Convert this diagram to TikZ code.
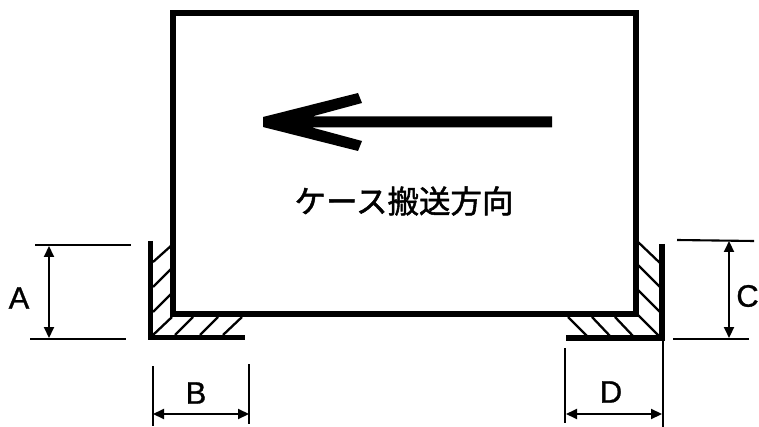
\documentclass[tikz,border=0pt]{standalone}
\usepackage{fontspec}
\setmainfont{Liberation Sans}
\newfontfamily\cjk[FakeBold=1.6]{Noto Sans CJK JP}
\newfontfamily\dimfont[FakeBold=0.9]{Liberation Sans}
\usetikzlibrary{arrows.meta}
\tikzset{
  thick line/.style={line width=5.4pt,line cap=butt,line join=miter},
  hatch/.style={line width=2.3pt},
  ext/.style={line width=2.1pt},
  dimarrow/.style={line width=2.1pt,{Triangle[length=11pt,width=10pt]}-{Triangle[length=11pt,width=10pt]}},
  dimlabel/.style={inner sep=0pt,font=\dimfont\fontsize{31}{31}\selectfont},
}
\begin{document}
\begin{tikzpicture}[x=1pt,y=-1pt]
\useasboundingbox (0,0) rectangle (759,427);
\fill[white] (0,0) rectangle (759,427);
% case
\draw[thick line] (173,13) rectangle (636,314);
% big arrow
\fill (552,116.5) -- (312,116.5) -- (362,103) -- (358,93) -- (263,117) -- (263,127) -- (358,151) -- (362,141) -- (312,127.5) -- (552,127.5) -- cycle;
\node[inner sep=0pt,font=\cjk\fontsize{31.5}{31.5}\selectfont] (title) at (404,201) {ケース搬送方向};
% left bracket
\draw[thick line] (150.5,241) -- (150.5,337.5) -- (245,337.5);
\foreach \a/\b/\c/\d in {153/262/172/245, 153/287/172/268, 153/312/172/293, 153/335/172/317, 175/335/193/317, 200/335/218/317, 223/335/242/317}
  \draw[hatch] (\a,\b) -- (\c,\d);
% right bracket
\draw[thick line] (662,244) -- (662,338) -- (566,338);
\foreach \a/\b/\c/\d in {638/242/660/263, 638/265/660/287, 638/290/660/312, 638/315/660/337, 568/317/587/336, 592/317/610/336, 615/317/633/336}
  \draw[hatch] (\a,\b) -- (\c,\d);
% dimension A
\draw[ext] (35,245) -- (131,245);
\draw[ext] (30,339) -- (126,339);
\coordinate (a1) at (49,246);
\coordinate (a2) at (49,338);
\draw[dimarrow] (a1) -- (a2);
\node[dimlabel] (A) at (19,298) {A};
% dimension B
\draw[ext] (153,366) -- (153,426);
\draw[ext] (249,364) -- (249,424);
\coordinate (b1) at (153,414);
\coordinate (b2) at (249,414);
\draw[dimarrow] (b1) -- (b2);
\node[dimlabel] (B) at (196,393) {B};
% dimension C
\draw[ext] (677,240) -- (754,241);
\draw[ext] (673,339) -- (749,339);
\coordinate (c1) at (729,241);
\coordinate (c2) at (729,338);
\draw[dimarrow] (c1) -- (c2);
\node[dimlabel] (C) at (747.5,296) {C};
% dimension D
\draw[ext] (565,348) -- (565,423);
\draw[ext] (663,340) -- (663,427);
\coordinate (d1) at (566,414);
\coordinate (d2) at (662,414);
\draw[dimarrow] (d1) -- (d2);
\node[dimlabel] (D) at (611,392) {D};
\end{tikzpicture}
\end{document}
